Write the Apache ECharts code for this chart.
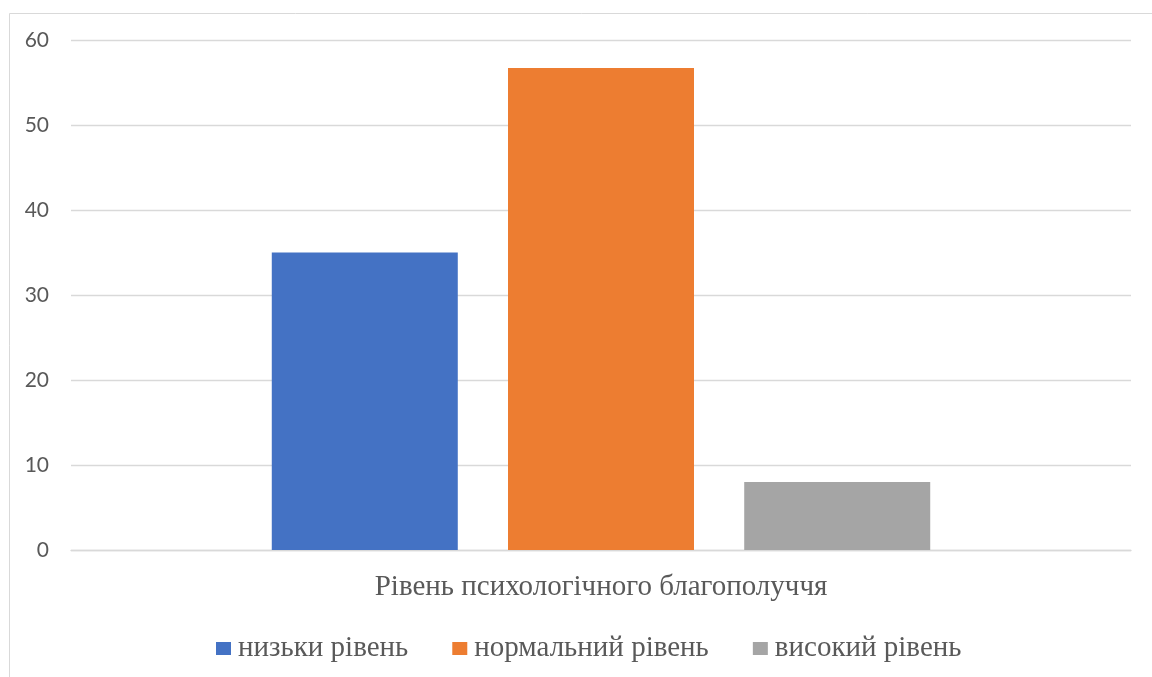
<!DOCTYPE html>
<html>
<head>
<meta charset="utf-8">
<script src="https://cdn.jsdelivr.net/npm/echarts@6/dist/echarts.min.js"></script>
<style>
  html, body { margin: 0; padding: 0; background: #ffffff; }
  #chart { width: 1152px; height: 677px; }
</style>
</head>
<body>
<div id="chart"></div>
<script>
// Category and series data
const categories = ['Рівень психологічного благополуччя'];
const seriesNames = ['низьки рівень', 'нормальний рівень', 'високий рівень'];
const lowLevel = [35];
const normalLevel = [56.7];
const highLevel = [8];
const yTicks = [0, 10, 20, 30, 40, 50, 60];

const colors = ['#4472c4', '#ed7d31', '#a5a5a5'];
const seriesValues = [lowLevel, normalLevel, highLevel];

const serifFont = '"Liberation Serif", "DejaVu Serif", serif';

const chart = echarts.init(document.getElementById('chart'), null, { renderer: 'canvas' });

chart.setOption({
  animation: false,
  backgroundColor: '#ffffff',
  color: colors,
  // chart area frame
  graphic: [{
    type: 'rect',
    left: 7,
    top: 11,
    shape: { x: 0.5, y: 0.5, width: 1300, height: 800 },
    style: { fill: 'none', stroke: '#d9d9d9', lineWidth: 1 },
    silent: true,
    z: -10
  }],
  grid: { left: 71, right: 21, top: 40, bottom: 127, containLabel: false },
  legend: {
    data: seriesNames,
    left: 211,
    top: 629,
    icon: 'rect',
    itemWidth: 15,
    itemHeight: 13,
    itemGap: 44,
    textStyle: {
      fontFamily: serifFont,
      fontSize: 29,
      color: '#595959',
      padding: [0, 0, 0, 2]
    }
  },
  xAxis: {
    type: 'category',
    data: categories,
    axisLine: { show: true, lineStyle: { color: '#d9d9d9', width: 1.3 } },
    axisTick: { show: false },
    axisLabel: {
      margin: 23,
      fontFamily: serifFont,
      fontSize: 29,
      color: '#595959'
    }
  },
  yAxis: {
    type: 'value',
    min: yTicks[0],
    max: yTicks[yTicks.length - 1],
    interval: 10,
    axisLine: { show: false },
    axisTick: { show: false },
    splitLine: { lineStyle: { color: '#d9d9d9', width: 1.3 } },
    axisLabel: {
      margin: 22,
      fontFamily: 'Lato, "Open Sans", sans-serif',
      fontSize: 21,
      color: '#595959'
    }
  },
  series: seriesNames.map((name, i) => ({
    name: name,
    type: 'bar',
    data: seriesValues[i],
    barWidth: 186,
    barGap: '27%',
    itemStyle: { color: colors[i] }
  }))
});
</script>
</body>
</html>
